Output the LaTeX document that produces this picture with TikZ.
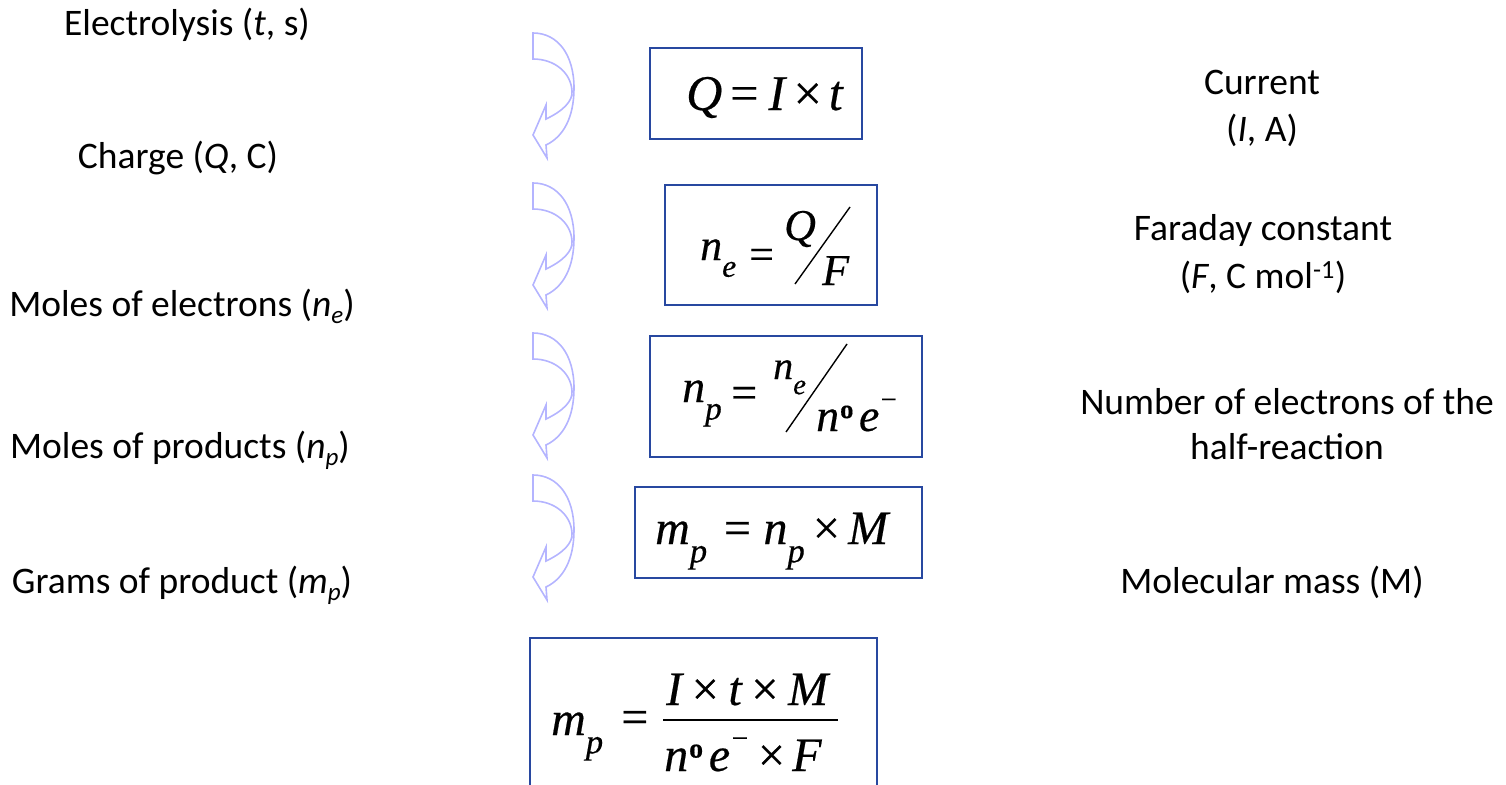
\documentclass[tikz,border=0pt]{standalone}
\usepackage{fontspec}
\usepackage{graphicx}
\setmainfont{Carlito}
\newfontfamily\tms[FakeBold=0.4]{Liberation Serif}
\definecolor{boxblue}{RGB}{40,72,160}
\definecolor{arrlav}{RGB}{180,180,255}
\newcommand\sbx[1]{\raisebox{-0.38em}{\scalebox{0.72}{\itshape #1}}}
\newcommand\lsb[1]{\raisebox{-0.2em}{\fontsize{25}{25}\selectfont\itshape #1}}
\newcommand\mydeg{\raisebox{0.28em}{\scalebox{0.58}{\bfseries o}}}
\newcommand\mns{\raisebox{0.48em}{\scalebox{0.62}{−}}}
\newcommand\gp[1]{\kern#1em}
\begin{document}
\begin{tikzpicture}[x=1pt,y=-1pt,
  lbl/.style={font=\fontsize{37.5}{44}\selectfont, anchor=base, inner sep=0},
  fbox/.style={draw=boxblue, line width=2pt, inner sep=0},
  eq/.style={anchor=base west, inner sep=0},
  carr/.style={draw=arrlav, line width=1.6pt, line join=miter}]
\useasboundingbox (0,0) rectangle (1506,784);
\clip (0,0) rectangle (1506,784);

% left labels
\node[lbl] (l1) at (187,36) {Electrolysis (\textit{t}, s)};
\node[lbl] (l2) at (178,168) {Charge (\textit{Q}, C)};
\node[lbl] (l3) at (182,316) {Moles of electrons (\textit{n}\lsb{e})};
\node[lbl] (l4) at (180,458) {Moles of products (\textit{n}\lsb{p})};
\node[lbl] (l5) at (182,593) {Grams of product (\textit{m}\lsb{p})};

% right labels
\node[lbl] (r1a) at (1262,94) {Current};
\node[lbl] (r1b) at (1262,141) {(\textit{I}, A)};
\node[lbl] (r2a) at (1263,240) {Faraday constant};
\node[lbl] (r2b) at (1263,288) {(\textit{F}, C mol\textsuperscript{-1})};
\node[lbl] (r3a) at (1287,414) {Number of electrons of the};
\node[lbl] (r3b) at (1287,459) {half-reaction};
\node[lbl] (r4) at (1272,593) {Molecular mass (M)};

% boxes
\node[fbox, minimum width=212, minimum height=91] (b1) at (756,93.5) {};
\node[fbox, minimum width=212, minimum height=120] (b2) at (771,245) {};
\node[fbox, minimum width=272, minimum height=121] (b3) at (786,396.5) {};
\node[fbox, minimum width=287, minimum height=91] (b4) at (778.5,532.5) {};
\node[fbox, minimum width=347, minimum height=170] (b5) at (703.5,723) {};

% box 1
\node[eq, font=\tms\fontsize{50}{50}\selectfont] (f1) at (686,110)
  {\itshape Q\gp{.16}\upshape=\gp{.2}\itshape I\gp{.17}\upshape×\gp{.14}\itshape t};

% box 2
\begin{scope}[every node/.style={eq, font=\tms\fontsize{44}{44}\selectfont}]
\node (f2a) at (700,260) {\itshape n\sbx{e}};
\node (f2b) at (749,269) {=};
\node (f2c) at (784,240) {\itshape Q};
\node (f2d) at (822,285) {\itshape F};
\end{scope}
\draw[line width=1.4pt] (795,284) -- (850,207);

% box 3
\begin{scope}[every node/.style={eq, font=\tms\fontsize{46}{46}\selectfont}]
\node (f3a) at (682,402) {\itshape n\sbx{p}};
\node (f3b) at (731,408) {=};
\node[font=\tms\fontsize{40}{40}\selectfont] (f3c) at (773,379) {\itshape n\sbx{e}};
\node (f3d) at (816,431) {\itshape n\upshape\gp{.02}\mydeg\gp{.12}\itshape e\upshape\gp{.03}\mns};
\end{scope}
\draw[line width=1.4pt] (786,432) -- (847,344);

% box 4
\node[eq, font=\tms\fontsize{48}{48}\selectfont] (f4) at (655,544)
  {\itshape m\sbx{p}\gp{.35}\upshape=\gp{.26}\itshape n\sbx{p}\gp{.17}\upshape×\gp{.17}\itshape M};

% box 5
\begin{scope}[every node/.style={eq, font=\tms\fontsize{48}{48}\selectfont}]
\node (f5a) at (551,735) {\itshape m\sbx{p}};
\node (f5b) at (621,733) {=};
\node (f5c) at (666,705) {\itshape I\gp{.2}\upshape×\gp{.2}\itshape t\gp{.2}\upshape×\gp{.2}\itshape M};
\node (f5d) at (664,771) {\itshape n\upshape\gp{.02}\mydeg\gp{.12}\itshape e\upshape\gp{.03}\mns\gp{.2}×\gp{.15}\itshape F};
\end{scope}
\draw[line width=1.5pt] (663,720) -- (838,720);

% curved arrows
\foreach \t [count=\i] in {33,183,333,475}{
  \begin{scope}[shift={(533,\t)}]
    \draw[carr] (0,0) .. controls (25,0) and (41,22) .. (41,55)
      .. controls (41,85) and (30,104) .. (13,112)
      -- (14,125) -- (0,102) -- (13,72) -- (13,86)
      .. controls (30,78) and (40,68) .. (39,58)
      .. controls (38,40) and (22,26) .. (0,26) -- cycle;
  \end{scope}
}
\end{tikzpicture}
\end{document}
